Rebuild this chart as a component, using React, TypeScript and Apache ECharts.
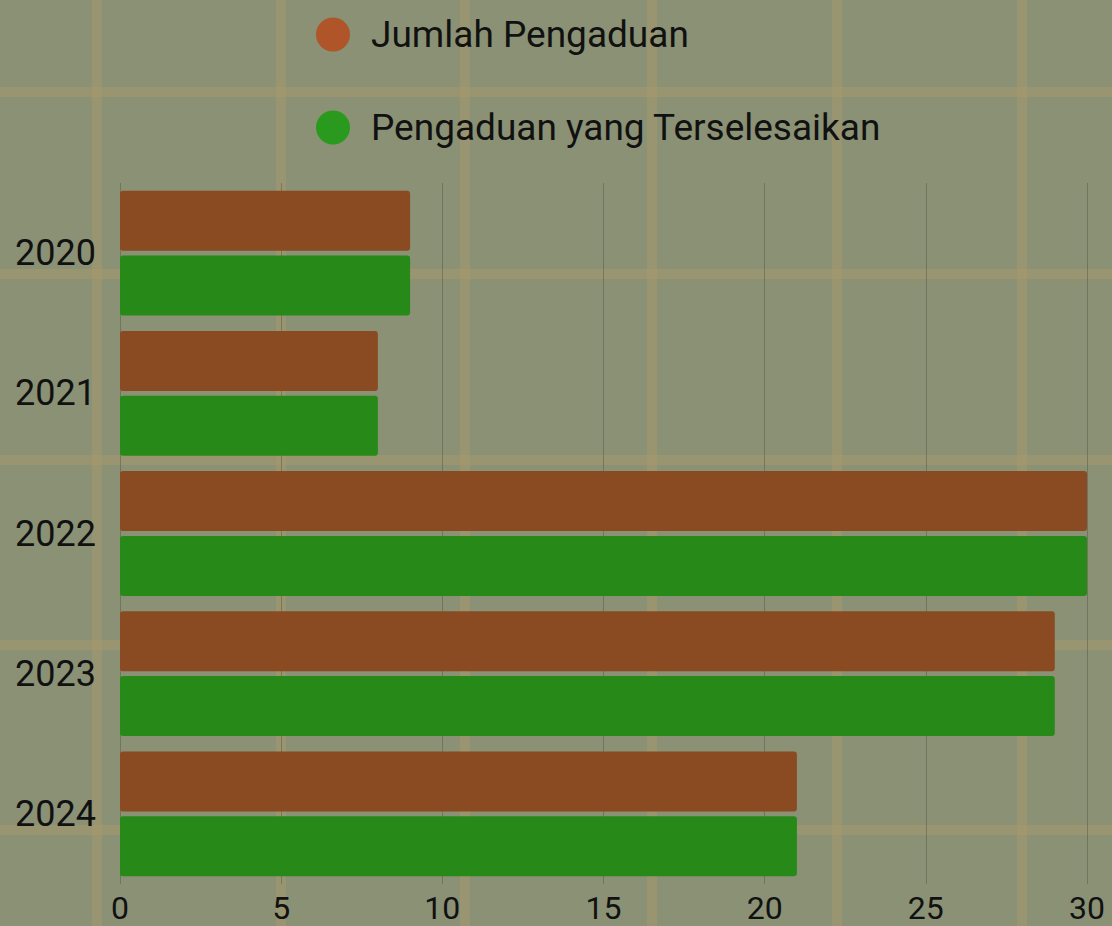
import React, { useEffect, useRef } from "react";
import * as echarts from "echarts";

const years = ["2020", "2021", "2022", "2023", "2024"];
const jumlahPengaduan = [9, 8, 30, 29, 21];
const pengaduanSelesai = [9, 8, 30, 29, 21];
const seriesNames = ["Jumlah Pengaduan", "Pengaduan yang Terselesaikan"];
const xTicks = { min: 0, max: 30, interval: 5 };

const W = 1112;
const H = 926;
const BG = "#8a9175";
const TAN = "rgba(168,154,108,0.5)";
const vLines = [97, 281, 465, 652, 837, 1022];
const hLines = [92, 274, 460, 645, 830];

export default function App() {
  const ref = useRef<HTMLDivElement>(null);
  useEffect(() => {
    if (!ref.current) return;
    const chart = echarts.init(ref.current, undefined, { renderer: "svg" });
    const deco: any[] = [];
    vLines.forEach((x) =>
      deco.push({ type: "rect", z: -10, silent: true, shape: { x: x - 5, y: 0, width: 10, height: H }, style: { fill: TAN } })
    );
    hLines.forEach((y) =>
      deco.push({ type: "rect", z: -10, silent: true, shape: { x: 0, y: y - 5, width: W, height: 10 }, style: { fill: TAN } })
    );
    chart.setOption({
      animation: false,
      backgroundColor: BG,
      textStyle: { fontFamily: "Roboto" },
      graphic: { elements: deco },
      legend: {
        orient: "vertical",
        left: 316,
        top: 16,
        padding: 0,
        icon: "circle",
        itemWidth: 34,
        itemHeight: 34,
        itemGap: 56,
        textStyle: { fontSize: 37, color: "#111", fontFamily: "Roboto", padding: [0, 0, 0, 16] },
        data: [
          { name: seriesNames[0], itemStyle: { color: "#b0552a" } },
          { name: seriesNames[1], itemStyle: { color: "#2a9a1e" } },
        ],
      },
      grid: { left: 120, right: 25, top: 183, bottom: 42, containLabel: false },
      xAxis: {
        type: "value",
        min: xTicks.min,
        max: xTicks.max,
        interval: xTicks.interval,
        axisLine: { show: false },
        axisTick: { show: false },
        axisLabel: { fontSize: 32, lineHeight: 32, color: "#111", margin: 8, fontFamily: "Roboto" },
        splitLine: { show: true, lineStyle: { color: "rgba(90,95,75,0.55)", width: 1 } },
      },
      yAxis: {
        type: "category",
        data: years,
        inverse: true,
        axisLine: { show: false },
        axisTick: { show: false },
        axisLabel: { fontSize: 36, color: "#111", margin: 24, fontFamily: "Roboto" },
        splitLine: { show: false },
      },
      series: [
        {
          name: seriesNames[0],
          type: "bar",
          data: jumlahPengaduan,
          barCategoryGap: "11%",
          barGap: "8%",
          itemStyle: { color: "#8a4a22", borderRadius: 3 },
        },
        {
          name: seriesNames[1],
          type: "bar",
          data: pengaduanSelesai,
          barCategoryGap: "11%",
          barGap: "8%",
          itemStyle: { color: "#278a18", borderRadius: 3 },
        },
      ],
    });
    return () => chart.dispose();
  }, []);
  return <div ref={ref} style={{ position: "absolute", left: 0, top: 0, width: W, height: H }} />;
}
